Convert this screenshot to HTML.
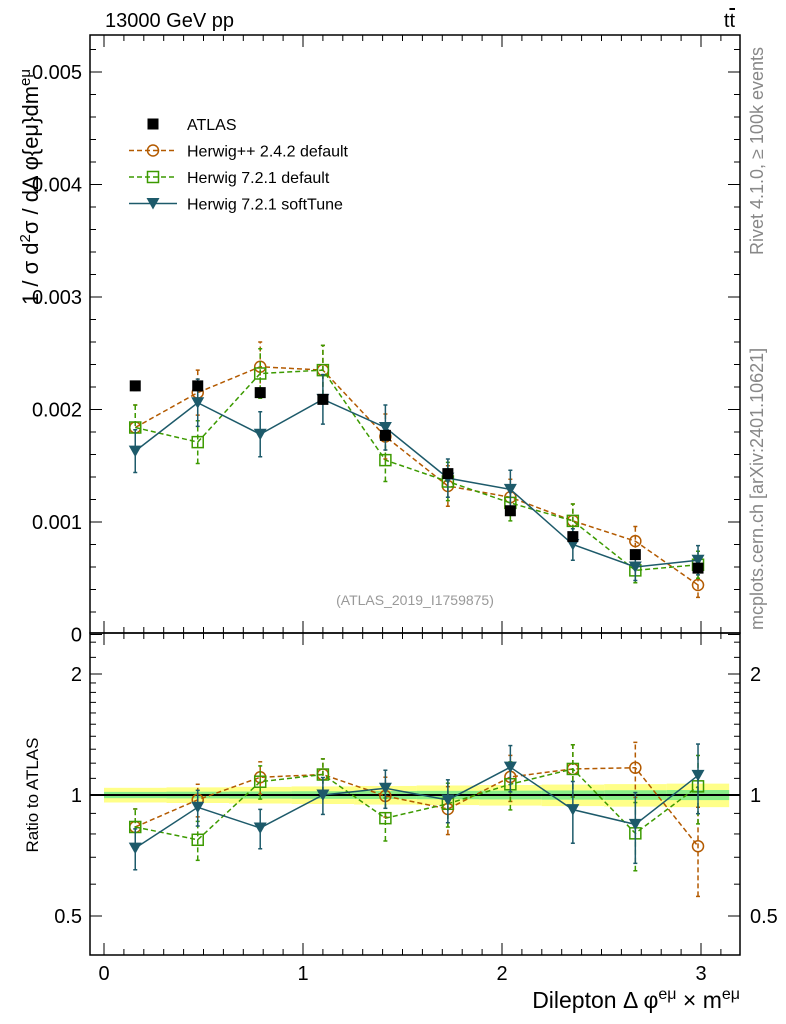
<!DOCTYPE html>
<html><head><meta charset="utf-8"><style>
body{margin:0;background:#fff;}
svg{display:block;font-family:"Liberation Sans",sans-serif;}
</style></head><body>
<svg id="c" width="786" height="1024" xmlns="http://www.w3.org/2000/svg"></svg>
<script>
const xCenters=[0.157,0.471,0.785,1.100,1.414,1.728,2.042,2.356,2.670,2.985];
const atlas=[0.00221,0.00221,0.00215,0.00209,0.00177,0.00143,0.00110,0.00087,0.00071,0.00059];
const atlasErr=[0.00004,0.00004,0.00004,0.00004,0.00004,0.00004,0.00004,0.00004,0.00004,0.00004];
const hpp=[0.00184,0.00215,0.00238,0.00235,0.00176,0.00132,0.00122,0.00101,0.00083,0.00044];
const hppErr=[0.0002,0.0002,0.00022,0.00022,0.0002,0.00018,0.00016,0.00015,0.00013,0.00011];
const h721=[0.00184,0.00171,0.00232,0.00235,0.00155,0.00136,0.00117,0.00101,0.00057,0.00062];
const h721Err=[0.0002,0.00019,0.00022,0.00022,0.00019,0.00017,0.00016,0.00015,0.00011,0.00012];
const soft=[0.00163,0.00206,0.00178,0.00209,0.00184,0.00139,0.00129,0.00080,0.00060,0.00066];
const softErr=[0.00019,0.00021,0.0002,0.00022,0.0002,0.00017,0.00017,0.00014,0.00012,0.00013];
const mainTicks=[0,0.001,0.002,0.003,0.004,0.005];
const mainTickLabels=["0","0.001","0.002","0.003","0.004","0.005"];
const xTicks=[0,1,2,3];
const ratioTicks=[0.5,1,2];

const NS="http://www.w3.org/2000/svg";
const svg=document.getElementById('c');
const L=90,R=740,T=35,MB=633,RB=955;
const X=v=>104+v*199;
const YM=v=>634.5-v*112500;
const YR=v=>795-Math.log2(v)*121;
function el(tag,attrs,parent){const e=document.createElementNS(NS,tag);for(const k in attrs)e.setAttribute(k,attrs[k]);(parent||svg).appendChild(e);return e;}
function txt(s,attrs,parent){const e=el('text',attrs,parent);e.textContent=s;return e;}

const bw=Math.PI/10;
const bands=el('g',{});


for(let i=0;i<10;i++){
  const x0=X(i*bw),x1=X((i+1)*bw);
  const rel=0.03+i*0.002;
  el('rect',{x:x0,y:YR(1+rel*1.4),width:x1-x0,height:YR(1-rel*1.4)-YR(1+rel*1.4),fill:'#ffff88'},bands);
  el('rect',{x:x0,y:YR(1+rel*0.6),width:x1-x0,height:YR(1-rel*0.6)-YR(1+rel*0.6),fill:'#88ee88'},bands);
}
const one=el('line',{x1:L,x2:R,y1:YR(1),y2:YR(1),stroke:'#000','stroke-width':2});



for(const [y0,y1,nm] of [[T,MB,'main-frame'],[MB,RB,'ratio-frame']]){
  const f=el('rect',{x:L,y:y0,width:R-L,height:y1-y0,fill:'none',stroke:'#000','stroke-width':1.5});
  
  
}
for(const yy of [[MB,-1],[RB,-1],[T,1],[MB,1]]){
  for(let v=0;v<=3.2;v+=0.1){
    const big=Math.abs(v-Math.round(v))<1e-6;
    const len=big?12:6;
    el('line',{x1:X(v),x2:X(v),y1:yy[0],y2:yy[0]+yy[1]*len,stroke:'#000'});
  }
}
xTicks.forEach(v=>{const t=txt(String(v),{x:X(v),y:980,'font-size':20,'text-anchor':'middle'});
});
for(let v=0;v<=0.0053;v+=0.0002){
  const big=Math.abs(v/0.001-Math.round(v/0.001))<1e-6;const len=big?12:6;
  el('line',{x1:L,x2:L+len,y1:YM(v),y2:YM(v),stroke:'#000'});
  el('line',{x1:R,x2:R-len,y1:YM(v),y2:YM(v),stroke:'#000'});
}
mainTicks.forEach((v,i)=>{const t=txt(mainTickLabels[i],{x:82,y:YM(v)+7,'font-size':20,'text-anchor':'end'});
});
const minor=[0.6,0.7,0.8,0.9,1.1,1.2,1.3,1.4,1.5,1.6,1.7,1.8,1.9,2.2,2.4];
minor.forEach(v=>{el('line',{x1:L,x2:L+6,y1:YR(v),y2:YR(v),stroke:'#000'});el('line',{x1:R,x2:R-6,y1:YR(v),y2:YR(v),stroke:'#000'});});
ratioTicks.forEach(v=>{
  el('line',{x1:L,x2:L+12,y1:YR(v),y2:YR(v),stroke:'#000'});el('line',{x1:R,x2:R-12,y1:YR(v),y2:YR(v),stroke:'#000'});
  const a=txt(String(v),{x:82,y:YR(v)+7,'font-size':20,'text-anchor':'end'});
  
  const b=txt(String(v),{x:750,y:YR(v)+7,'font-size':20});
  
});

function marker(g,type,x,y,c){
  if(type==='sq-f') el('rect',{x:x-5.5,y:y-5.5,width:11,height:11,fill:c},g);
  else if(type==='circ') el('circle',{cx:x,cy:y,r:5.5,fill:'none',stroke:c,'stroke-width':1.5},g);
  else if(type==='sq-o') el('rect',{x:x-5.5,y:y-5.5,width:11,height:11,fill:'none',stroke:c,'stroke-width':1.5},g);
  else if(type==='tri') el('polygon',{points:`${x-6.5},${y-5.5} ${x+6.5},${y-5.5} ${x},${y+6}`,fill:c},g);
}
function series(name,vals,errs,color,dash,type,ratioPanel){
  const g=el('g',{});
  
  
  const pts=vals.map((v,i)=>{
    const val=ratioPanel?v/atlas[i]:v;
    const lo=ratioPanel?(v-errs[i])/atlas[i]:v-errs[i];
    const hi=ratioPanel?(v+errs[i])/atlas[i]:v+errs[i];
    const F=ratioPanel?YR:YM;
    return {x:X(xCenters[i]),y:F(val),lo:F(lo),hi:F(hi)};
  });
  if(type!=='sq-f') el('polyline',{points:pts.map(p=>p.x+','+p.y).join(' '),fill:'none',stroke:color,'stroke-width':1.5,'stroke-dasharray':dash||''},g);
  pts.forEach(p=>{
    el('line',{x1:p.x,x2:p.x,y1:p.lo,y2:p.hi,stroke:color,'stroke-width':1.5,'stroke-dasharray':dash||''},g);
    el('line',{x1:p.x-2,x2:p.x+2,y1:p.lo,y2:p.lo,stroke:color,'stroke-width':1.5},g);
    el('line',{x1:p.x-2,x2:p.x+2,y1:p.hi,y2:p.hi,stroke:color,'stroke-width':1.5},g);
    marker(g,type,p.x,p.y,color);
  });
}
const cHpp='#b35a00',cH7='#3c9a00',cSoft='#1d5a6a';
series('herwigpp-242-series',hpp,hppErr,cHpp,'5,3','circ',false);
series('herwig-721-default-series',h721,h721Err,cH7,'5,3','sq-o',false);
series('herwig-721-softtune-series',soft,softErr,cSoft,'','tri',false);
series('atlas-data-series',atlas,atlasErr,'#000','','sq-f',false);
series('herwigpp-242-series',hpp,hppErr,cHpp,'5,3','circ',true);
series('herwig-721-default-series',h721,h721Err,cH7,'5,3','sq-o',true);
series('herwig-721-softtune-series',soft,softErr,cSoft,'','tri',true);

const lg=el('g',{});


const entries=[['ATLAS','#000','','sq-f'],['Herwig++ 2.4.2 default',cHpp,'5,3','circ'],['Herwig 7.2.1 default',cH7,'5,3','sq-o'],['Herwig 7.2.1 softTune',cSoft,'','tri']];
entries.forEach((e,i)=>{
  const y=124+i*26.5;
  const g=el('g',{},lg);
  
  
  if(e[3]!=='sq-f') el('line',{x1:129,x2:177,y1:y,y2:y,stroke:e[1],'stroke-width':1.5,'stroke-dasharray':e[2]},g);
  marker(g,e[3],153,y,e[1]);
  txt(e[0],{x:187,y:y+6,'font-size':16},g);
});

const t1=txt('13000 GeV pp',{x:105,y:27,'font-size':20});

const tt=txt('t',{x:735,y:27,'font-size':20,'text-anchor':'end'});

const tb=el('tspan',{'text-decoration':'overline'},tt);tb.textContent='t';
const an=txt('(ATLAS_2019_I1759875)',{x:415,y:605,'font-size':14,fill:'#999','text-anchor':'middle'});


const xl=txt('',{x:740,y:1008,'font-size':23,'text-anchor':'end'});

xl.innerHTML='Dilepton Δ φ<tspan dy="-9" font-size="16">eμ</tspan><tspan dy="9"> × m</tspan><tspan dy="-9" font-size="16">eμ</tspan>';

const yl=txt('',{transform:'translate(38,305) rotate(-90)','font-size':22});

yl.innerHTML='1 / σ  d<tspan dy="-8" font-size="15">2</tspan><tspan dy="8">σ / dΔ φ{eμ}dm</tspan><tspan dy="-8" font-size="15">eμ</tspan>';

const rl=txt('Ratio to ATLAS',{transform:'translate(38,795) rotate(-90)','font-size':17,'text-anchor':'middle'});

const r1=txt('Rivet 4.1.0, ≥ 100k events',{transform:'translate(763,255) rotate(-90)','font-size':18,fill:'#888'});

const r2=txt('mcplots.cern.ch [arXiv:2401.10621]',{transform:'translate(763,630) rotate(-90)','font-size':18,fill:'#888'});

</script>
</body></html>
